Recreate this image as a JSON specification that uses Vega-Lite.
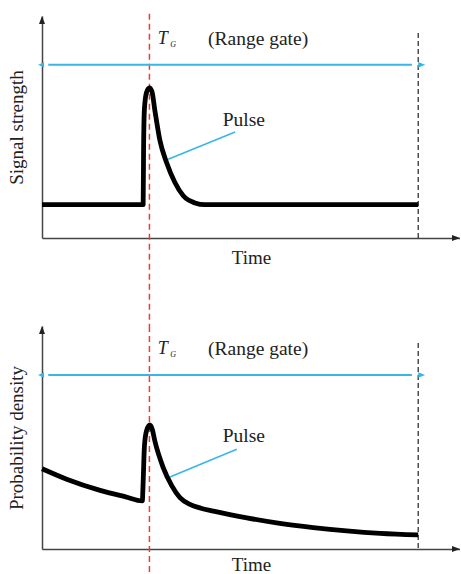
{
  "$schema": "https://vega.github.io/schema/vega-lite/v6.json",
  "autosize": {"type": "pad"},
  "padding": {"left": 7, "top": 13, "right": 0, "bottom": 0},
  "background": "white",
  "bounds": "flush",
  "spacing": 88,
  "config": {
    "view": {"stroke": null},
    "font": "Liberation Serif",
    "axis": {
      "domainColor": "#444",
      "domainWidth": 1.5,
      "ticks": false,
      "labels": false,
      "grid": false,
      "titleFont": "Liberation Serif",
      "titleFontSize": 19,
      "titleFontWeight": "normal",
      "titleColor": "#222"
    }
  },
  "vconcat": [
    {
      "width": 418,
      "height": 222,
      "layer": [
        {
          "data": {"values": [{"t": 25.7, "v": 101, "v2": -39.64}]},
          "mark": {"type": "rule", "color": "#f03a36", "strokeWidth": 1.5, "strokeDash": [6, 4]},
          "encoding": {
            "x": {"field": "t", "type": "quantitative"},
            "y": {"field": "v", "type": "quantitative"},
            "y2": {"field": "v2"}
          }
        },
        {
          "data": {"values": [{"t": 90, "v": 92.3, "v2": 0}]},
          "mark": {"type": "rule", "color": "#222", "strokeWidth": 1.2, "strokeDash": [5, 3]},
          "encoding": {
            "x": {"field": "t", "type": "quantitative"},
            "y": {"field": "v", "type": "quantitative"},
            "y2": {"field": "v2"}
          }
        },
        {
          "data": {"values": [{"t": 1.5, "t2": 88.5, "v": 78}]},
          "mark": {"type": "rule", "color": "#38b6e6", "strokeWidth": 2},
          "encoding": {
            "x": {"field": "t", "type": "quantitative"},
            "x2": {"field": "t2"},
            "y": {"field": "v", "type": "quantitative"}
          }
        },
        {
          "data": {"values": [{"t": 0.5, "v": 78}]},
          "mark": {"type": "point", "shape": "M-1,0L0,-0.45L0,0.45Z", "filled": true, "opacity": 1, "size": 144, "color": "#38b6e6"},
          "encoding": {
            "x": {"field": "t", "type": "quantitative"},
            "y": {"field": "v", "type": "quantitative"}
          }
        },
        {
          "data": {"values": [{"t": 90, "v": 78}]},
          "mark": {"type": "point", "shape": "M1,0L0,-0.4L0,0.4Z", "filled": true, "opacity": 1, "size": 196, "color": "#38b6e6"},
          "encoding": {
            "x": {"field": "t", "type": "quantitative"},
            "y": {"field": "v", "type": "quantitative"}
          }
        },
        {
          "data": {"values": [{"t": 30.2, "v": 35.5, "t2": 46.2, "v2": 47.7}]},
          "mark": {"type": "rule", "color": "#38b6e6", "strokeWidth": 1.6},
          "encoding": {
            "x": {"field": "t", "type": "quantitative"},
            "y": {"field": "v", "type": "quantitative"},
            "x2": {"field": "t2"},
            "y2": {"field": "v2"}
          }
        },
        {
          "data": {"values": [
            {"t": 0, "v": 15}, {"t": 24.2, "v": 15}, {"t": 24.3, "v": 40},
            {"t": 24.5, "v": 58}, {"t": 25.0, "v": 65.5}, {"t": 25.7, "v": 67.6},
            {"t": 26.3, "v": 66}, {"t": 27.0, "v": 57.5}, {"t": 28.2, "v": 44},
            {"t": 29.8, "v": 34}, {"t": 31.8, "v": 25}, {"t": 33.8, "v": 19},
            {"t": 36.6, "v": 15.8}, {"t": 39, "v": 15}, {"t": 90, "v": 15}
          ]},
          "mark": {"type": "line", "color": "black", "strokeWidth": 4.8, "interpolate": "monotone", "strokeJoin": "round"},
          "encoding": {
            "x": {
              "field": "t", "type": "quantitative",
              "scale": {"domain": [0, 100], "nice": false},
              "axis": {"title": "Time", "titlePadding": 10}
            },
            "y": {
              "field": "v", "type": "quantitative",
              "scale": {"domain": [0, 100], "nice": false},
              "axis": {"title": "Signal strength", "titlePadding": 16}
            }
          }
        },
        {
          "data": {"values": [{"t": 0, "v": 100}]},
          "mark": {"type": "point", "shape": "M0,0L0.375,1L-0.375,1Z", "filled": true, "opacity": 1, "size": 256, "color": "#222"},
          "encoding": {
            "x": {"field": "t", "type": "quantitative"},
            "y": {"field": "v", "type": "quantitative"}
          }
        },
        {
          "data": {"values": [{"t": 100, "v": 0}]},
          "mark": {"type": "point", "shape": "M0,0L-1,-0.375L-1,0.375Z", "filled": true, "opacity": 1, "size": 256, "color": "#222"},
          "encoding": {
            "x": {"field": "t", "type": "quantitative"},
            "y": {"field": "v", "type": "quantitative"}
          }
        },
        {
          "data": {"values": [{"t": 28.9, "v": 89.6, "label": "T"}]},
          "mark": {"type": "text", "font": "Liberation Serif", "fontStyle": "italic", "fontSize": 18, "color": "#222"},
          "encoding": {
            "x": {"field": "t", "type": "quantitative"},
            "y": {"field": "v", "type": "quantitative"},
            "text": {"field": "label"}
          }
        },
        {
          "data": {"values": [{"t": 31.4, "v": 86.9, "label": "G"}]},
          "mark": {"type": "text", "font": "Liberation Serif", "fontStyle": "italic", "fontSize": 8, "color": "#222"},
          "encoding": {
            "x": {"field": "t", "type": "quantitative"},
            "y": {"field": "v", "type": "quantitative"},
            "text": {"field": "label"}
          }
        },
        {
          "data": {"values": [{"t": 51.7, "v": 89.6, "label": "(Range gate)"}, {"t": 48.3, "v": 53, "label": "Pulse"}]},
          "mark": {"type": "text", "font": "Liberation Serif", "fontSize": 19.5, "color": "#222"},
          "encoding": {
            "x": {"field": "t", "type": "quantitative"},
            "y": {"field": "v", "type": "quantitative"},
            "text": {"field": "label"}
          }
        }
      ]
    },
    {
      "width": 418,
      "height": 223,
      "layer": [
        {
          "data": {"values": [{"t": 25.7, "v": 100, "v2": -12}]},
          "mark": {"type": "rule", "color": "#f03a36", "strokeWidth": 1.5, "strokeDash": [6, 4]},
          "encoding": {
            "x": {"field": "t", "type": "quantitative"},
            "y": {"field": "v", "type": "quantitative"},
            "y2": {"field": "v2"}
          }
        },
        {
          "data": {"values": [{"t": 90, "v": 92.4, "v2": 0}]},
          "mark": {"type": "rule", "color": "#222", "strokeWidth": 1.2, "strokeDash": [5, 3]},
          "encoding": {
            "x": {"field": "t", "type": "quantitative"},
            "y": {"field": "v", "type": "quantitative"},
            "y2": {"field": "v2"}
          }
        },
        {
          "data": {"values": [{"t": 1.5, "t2": 88.5, "v": 78}]},
          "mark": {"type": "rule", "color": "#38b6e6", "strokeWidth": 2},
          "encoding": {
            "x": {"field": "t", "type": "quantitative"},
            "x2": {"field": "t2"},
            "y": {"field": "v", "type": "quantitative"}
          }
        },
        {
          "data": {"values": [{"t": 0.5, "v": 78}]},
          "mark": {"type": "point", "shape": "M-1,0L0,-0.45L0,0.45Z", "filled": true, "opacity": 1, "size": 144, "color": "#38b6e6"},
          "encoding": {
            "x": {"field": "t", "type": "quantitative"},
            "y": {"field": "v", "type": "quantitative"}
          }
        },
        {
          "data": {"values": [{"t": 90, "v": 78}]},
          "mark": {"type": "point", "shape": "M1,0L0,-0.4L0,0.4Z", "filled": true, "opacity": 1, "size": 196, "color": "#38b6e6"},
          "encoding": {
            "x": {"field": "t", "type": "quantitative"},
            "y": {"field": "v", "type": "quantitative"}
          }
        },
        {
          "data": {"values": [{"t": 30.6, "v": 32.3, "t2": 46.6, "v2": 44.7}]},
          "mark": {"type": "rule", "color": "#38b6e6", "strokeWidth": 1.6},
          "encoding": {
            "x": {"field": "t", "type": "quantitative"},
            "y": {"field": "v", "type": "quantitative"},
            "x2": {"field": "t2"},
            "y2": {"field": "v2"}
          }
        },
        {
          "data": {"values": [
            {"t": 0, "v": 36}, {"t": 5.9, "v": 31.3}, {"t": 13.9, "v": 26.3},
            {"t": 20, "v": 23.4}, {"t": 24.0, "v": 21.6}, {"t": 24.2, "v": 30},
            {"t": 24.5, "v": 46}, {"t": 25.0, "v": 53}, {"t": 25.8, "v": 55.6},
            {"t": 26.4, "v": 53.5}, {"t": 27.0, "v": 48.4}, {"t": 29.0, "v": 36.5},
            {"t": 31.0, "v": 28.5}, {"t": 33.0, "v": 23.0}, {"t": 35.4, "v": 20.0},
            {"t": 38.0, "v": 18.3}, {"t": 41.0, "v": 17.0}, {"t": 49.0, "v": 14.0},
            {"t": 56.9, "v": 11.5}, {"t": 64.9, "v": 9.6}, {"t": 72.9, "v": 8.1},
            {"t": 80.9, "v": 7.0}, {"t": 90, "v": 6.3}
          ]},
          "mark": {"type": "line", "color": "black", "strokeWidth": 4.8, "interpolate": "monotone", "strokeJoin": "round"},
          "encoding": {
            "x": {
              "field": "t", "type": "quantitative",
              "scale": {"domain": [0, 100], "nice": false},
              "axis": {"title": "Time", "titlePadding": 6}
            },
            "y": {
              "field": "v", "type": "quantitative",
              "scale": {"domain": [0, 100], "nice": false},
              "axis": {"title": "Probability density", "titlePadding": 16}
            }
          }
        },
        {
          "data": {"values": [{"t": 0, "v": 100}]},
          "mark": {"type": "point", "shape": "M0,0L0.375,1L-0.375,1Z", "filled": true, "opacity": 1, "size": 256, "color": "#222"},
          "encoding": {
            "x": {"field": "t", "type": "quantitative"},
            "y": {"field": "v", "type": "quantitative"}
          }
        },
        {
          "data": {"values": [{"t": 100, "v": 0}]},
          "mark": {"type": "point", "shape": "M0,0L-1,-0.375L-1,0.375Z", "filled": true, "opacity": 1, "size": 256, "color": "#222"},
          "encoding": {
            "x": {"field": "t", "type": "quantitative"},
            "y": {"field": "v", "type": "quantitative"}
          }
        },
        {
          "data": {"values": [{"t": 28.9, "v": 89.7, "label": "T"}]},
          "mark": {"type": "text", "font": "Liberation Serif", "fontStyle": "italic", "fontSize": 18, "color": "#222"},
          "encoding": {
            "x": {"field": "t", "type": "quantitative"},
            "y": {"field": "v", "type": "quantitative"},
            "text": {"field": "label"}
          }
        },
        {
          "data": {"values": [{"t": 31.4, "v": 87, "label": "G"}]},
          "mark": {"type": "text", "font": "Liberation Serif", "fontStyle": "italic", "fontSize": 8, "color": "#222"},
          "encoding": {
            "x": {"field": "t", "type": "quantitative"},
            "y": {"field": "v", "type": "quantitative"},
            "text": {"field": "label"}
          }
        },
        {
          "data": {"values": [{"t": 51.7, "v": 89.7, "label": "(Range gate)"}, {"t": 48.3, "v": 50.7, "label": "Pulse"}]},
          "mark": {"type": "text", "font": "Liberation Serif", "fontSize": 19.5, "color": "#222"},
          "encoding": {
            "x": {"field": "t", "type": "quantitative"},
            "y": {"field": "v", "type": "quantitative"},
            "text": {"field": "label"}
          }
        }
      ]
    }
  ]
}
